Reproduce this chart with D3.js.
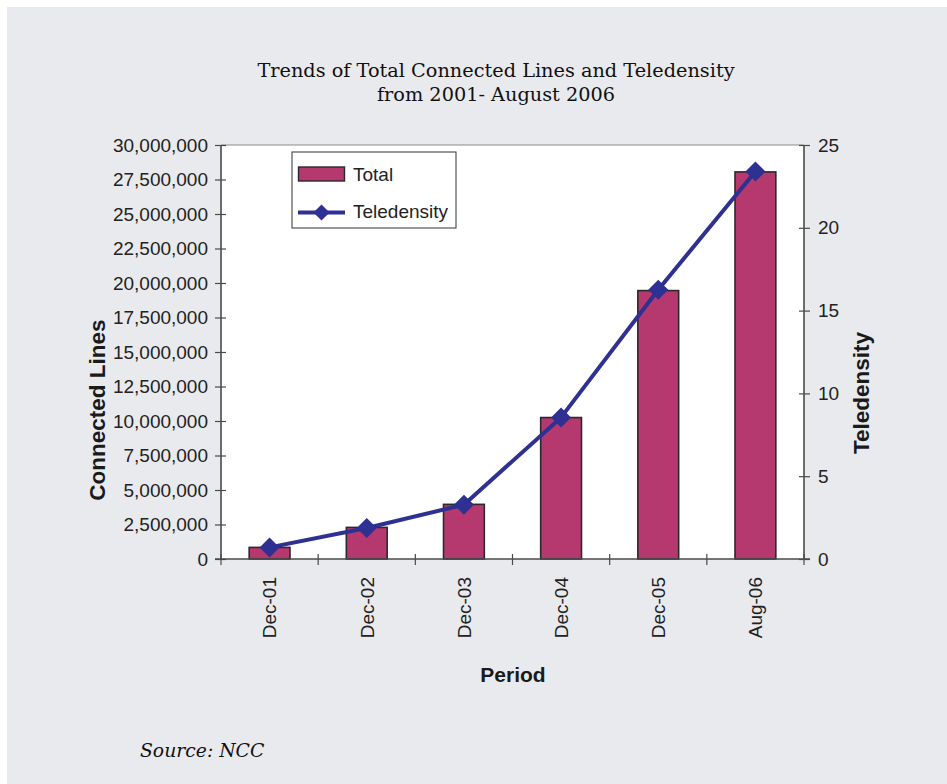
<!DOCTYPE html>
<html>
<head>
<meta charset="utf-8">
<script src="https://cdn.jsdelivr.net/npm/d3@7"></script>
<style>
  html, body { margin: 0; padding: 0; background: #ffffff; }
  svg { display: block; }
</style>
</head>
<body>
<script>
// Connected lines and teledensity, Dec 2001 – Aug 2006
const periods = ["Dec-01", "Dec-02", "Dec-03", "Dec-04", "Dec-05", "Aug-06"];
const totalLines = [840000, 2290000, 3960000, 10250000, 19450000, 28050000];
const teledensity = [0.70, 1.87, 3.28, 8.55, 16.26, 23.4];
const leftTicks = [0, 2500000, 5000000, 7500000, 10000000, 12500000, 15000000,
                   17500000, 20000000, 22500000, 25000000, 27500000, 30000000];
const rightTicks = [0, 5, 10, 15, 20, 25];
const titleLines = ["Trends of Total Connected Lines and Teledensity", "from 2001- August 2006"];

const W = 947, H = 784;
const plot = { left: 221, right: 804, top: 145, bottom: 559 };

const barFill = "#b5386f";
const lineColor = "#2e3192";
const axisColor = "#4a4a4a";
const sans = "'Liberation Sans', Arial, sans-serif";
const serif = "'DejaVu Serif', 'Liberation Serif', serif";

const svg = d3.select("body").append("svg").attr("width", W).attr("height", H);

// page panel
svg.append("rect").attr("x", 7).attr("y", 7).attr("width", W - 7).attr("height", H - 7)
  .attr("fill", "#e9eaee");

// title
svg.append("text")
  .attr("x", 496).attr("y", 77)
  .attr("text-anchor", "middle")
  .attr("font-family", serif).attr("font-size", 19.3).attr("fill", "#111")
  .selectAll("tspan").data(titleLines).join("tspan")
  .attr("x", 496).attr("dy", (d, i) => i === 0 ? 0 : 23.5)
  .text(d => d);

// scales
const x = d3.scaleBand().domain(periods)
  .range([plot.left, plot.right]).paddingInner(0.58).paddingOuter(0.29);
const yL = d3.scaleLinear().domain([0, 30000000]).range([plot.bottom, plot.top]);
const yR = d3.scaleLinear().domain([0, 25]).range([plot.bottom, plot.top]);

// plot area
svg.append("rect")
  .attr("x", plot.left).attr("y", plot.top)
  .attr("width", plot.right - plot.left).attr("height", plot.bottom - plot.top)
  .attr("fill", "#ffffff");
svg.append("line")
  .attr("x1", plot.left).attr("x2", plot.right).attr("y1", plot.top).attr("y2", plot.top)
  .attr("stroke", "#8a8a8a").attr("stroke-width", 1.2);

// bars
svg.append("g").selectAll("rect").data(periods).join("rect")
  .attr("x", d => x(d))
  .attr("y", (d, i) => yL(totalLines[i]))
  .attr("width", x.bandwidth())
  .attr("height", (d, i) => yL(0) - yL(totalLines[i]))
  .attr("fill", barFill)
  .attr("stroke", "#2a2a2a").attr("stroke-width", 1.6);

// left axis
const gL = svg.append("g").attr("transform", `translate(${plot.left},0)`)
  .call(d3.axisLeft(yL).tickValues(leftTicks).tickFormat(d3.format(","))
    .tickSize(6).tickPadding(7));
gL.select(".domain").remove();
gL.selectAll(".tick line").attr("x1", 5).attr("stroke", axisColor).attr("stroke-width", 1.2);
gL.selectAll(".tick text").attr("font-family", sans).attr("font-size", 19).attr("fill", "#222");
svg.append("line").attr("x1", plot.left).attr("x2", plot.left)
  .attr("y1", plot.top).attr("y2", plot.bottom)
  .attr("stroke", axisColor).attr("stroke-width", 1.6);

// right axis
const gR = svg.append("g").attr("transform", `translate(${plot.right},0)`)
  .call(d3.axisRight(yR).tickValues(rightTicks).tickSize(6).tickPadding(8));
gR.select(".domain").remove();
gR.selectAll(".tick line").attr("x1", -5).attr("stroke", axisColor).attr("stroke-width", 1.2);
gR.selectAll(".tick text").attr("font-family", sans).attr("font-size", 19).attr("fill", "#222");
svg.append("line").attr("x1", plot.right).attr("x2", plot.right)
  .attr("y1", plot.top).attr("y2", plot.bottom)
  .attr("stroke", axisColor).attr("stroke-width", 1.6);

// bottom axis with category separators
svg.append("line").attr("x1", plot.left - 6).attr("x2", plot.right + 6)
  .attr("y1", plot.bottom).attr("y2", plot.bottom)
  .attr("stroke", axisColor).attr("stroke-width", 1.6);
const bounds = [x(periods[0]) - x.step() * x.paddingOuter()]
  .concat(periods.map(p => x(p) + x.bandwidth() + x.step() * x.paddingInner() / 2));
svg.append("g").selectAll("line").data(bounds).join("line")
  .attr("x1", d => d).attr("x2", d => d)
  .attr("y1", plot.bottom - 5).attr("y2", plot.bottom + 6)
  .attr("stroke", axisColor).attr("stroke-width", 1.2);
svg.append("g").selectAll("text").data(periods).join("text")
  .attr("transform", d => `translate(${x(d) + x.bandwidth() / 2},${plot.bottom}) rotate(-90)`)
  .attr("x", -18).attr("dy", "0.36em")
  .attr("text-anchor", "end")
  .attr("font-family", sans).attr("font-size", 19).attr("fill", "#222")
  .text(d => d);

// teledensity line
const line = d3.line()
  .x((d, i) => x(periods[i]) + x.bandwidth() / 2)
  .y(d => yR(d));
svg.append("path").datum(teledensity)
  .attr("d", line)
  .attr("fill", "none").attr("stroke", lineColor).attr("stroke-width", 4)
  .attr("stroke-linejoin", "round");
const diamond = d3.symbol().type(d3.symbolSquare).size(200);
svg.append("g").selectAll("path").data(teledensity).join("path")
  .attr("transform", (d, i) => `translate(${x(periods[i]) + x.bandwidth() / 2},${yR(d)}) rotate(45)`)
  .attr("d", diamond)
  .attr("fill", lineColor);

// axis titles
svg.append("text")
  .attr("transform", `translate(105,410) rotate(-90)`)
  .attr("text-anchor", "middle")
  .attr("font-family", sans).attr("font-weight", "bold").attr("font-size", 22.5).attr("fill", "#1a1a1a")
  .text("Connected Lines");
svg.append("text")
  .attr("transform", `translate(869,393) rotate(-90)`)
  .attr("text-anchor", "middle")
  .attr("font-family", sans).attr("font-weight", "bold").attr("font-size", 22.5).attr("fill", "#1a1a1a")
  .text("Teledensity");
svg.append("text")
  .attr("x", 513).attr("y", 682)
  .attr("text-anchor", "middle")
  .attr("font-family", sans).attr("font-weight", "bold").attr("font-size", 21).attr("fill", "#1a1a1a")
  .text("Period");

// legend
const lg = svg.append("g");
lg.append("rect").attr("x", 292).attr("y", 152).attr("width", 164).attr("height", 76)
  .attr("fill", "#ffffff").attr("stroke", "#333").attr("stroke-width", 1);
lg.append("rect").attr("x", 298.5).attr("y", 167).attr("width", 46).attr("height", 14)
  .attr("fill", barFill).attr("stroke", "#2a2a2a").attr("stroke-width", 1.4);
lg.append("text").attr("x", 353).attr("y", 174).attr("dy", "0.35em")
  .attr("font-family", sans).attr("font-size", 19).attr("fill", "#222").text("Total");
lg.append("line").attr("x1", 298).attr("x2", 345).attr("y1", 212.5).attr("y2", 212.5)
  .attr("stroke", lineColor).attr("stroke-width", 4);
lg.append("path").attr("transform", "translate(321.5,212.5) rotate(45)")
  .attr("d", d3.symbol().type(d3.symbolSquare).size(130)).attr("fill", lineColor);
lg.append("text").attr("x", 353).attr("y", 211).attr("dy", "0.35em")
  .attr("font-family", sans).attr("font-size", 19).attr("fill", "#222").text("Teledensity");

// source note
svg.append("text").attr("x", 140).attr("y", 757)
  .attr("font-family", serif).attr("font-style", "italic").attr("font-size", 18.8).attr("fill", "#111")
  .text("Source: NCC");
</script>
</body>
</html>
